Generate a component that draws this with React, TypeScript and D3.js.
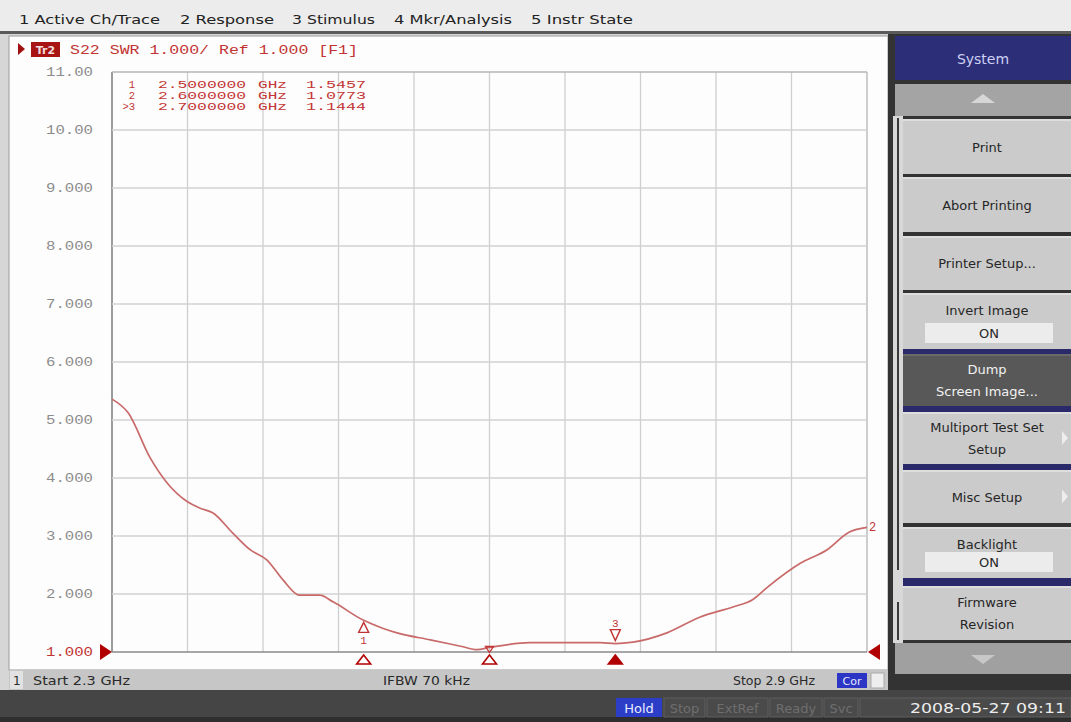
import React from 'react';
import * as d3 from 'd3';

// S22 SWR trace
const freqGHz = [
  2.3, 2.313, 2.33, 2.344, 2.36, 2.37, 2.38, 2.396, 2.41, 2.423, 2.436, 2.449,
  2.465, 2.476, 2.5, 2.515, 2.528, 2.553, 2.579, 2.59, 2.6, 2.632, 2.665,
  2.688, 2.7, 2.714, 2.741, 2.767, 2.794, 2.809, 2.821, 2.847, 2.868, 2.886, 2.9
];
const swrValues = [
  5.36, 5.12, 4.36, 3.91, 3.59, 3.48, 3.4, 3.05, 2.76, 2.59, 2.24, 1.98,
  1.98, 1.86, 1.5457, 1.41, 1.32, 1.21, 1.09, 1.04, 1.0773, 1.16, 1.16,
  1.16, 1.1444, 1.17, 1.33, 1.6, 1.78, 1.9, 2.12, 2.53, 2.76, 3.07, 3.15
];

const yTickValues = [11, 10, 9, 8, 7, 6, 5, 4, 3, 2, 1];
const yTickLabels = ['11.00', '10.00', '9.000', '8.000', '7.000', '6.000', '5.000', '4.000', '3.000', '2.000', '1.000'];

const markerNums = [1, 2, 3];
const markerFreqs = [2.5, 2.6, 2.7];
const markerSwr = [1.5457, 1.0773, 1.1444];
const activeMarker = 3;

const menuItems = ['1 Active Ch/Trace', '2 Response', '3 Stimulus', '4 Mkr/Analysis', '5 Instr State'];
const menuX = [19, 180, 292, 394, 531];
const menuW = [141, 94, 83, 118, 102];

const softkeys = [
  { lines: ['Print'], top: 119, bottom: 174 },
  { lines: ['Abort Printing'], top: 177, bottom: 232 },
  { lines: ['Printer Setup...'], top: 236, bottom: 290 },
  { lines: ['Invert Image'], top: 293, bottom: 349, value: 'ON' },
  { lines: ['Dump', 'Screen Image...'], top: 354, bottom: 406, dark: true },
  { lines: ['Multiport Test Set', 'Setup'], top: 412, bottom: 464, arrow: true },
  { lines: ['Misc Setup'], top: 470, bottom: 523, arrow: true },
  { lines: ['Backlight'], top: 527, bottom: 578, value: 'ON' },
  { lines: ['Firmware', 'Revision'], top: 586, bottom: 640 }
];
const navyGaps = [[349, 354], [406, 412], [464, 470], [578, 586]];

const statusItems = ['Hold', 'Stop', 'ExtRef', 'Ready', 'Svc'];
const statusX = [616, 664, 707, 770, 824, 860];

const RED = '#c23434';
const TRACE = '#c96a6a';
const MONO = '"Liberation Mono", "DejaVu Sans Mono", monospace';
const SANS = '"DejaVu Sans", "Liberation Sans", sans-serif';

export default function App() {
  const W = 1071;
  const H = 722;
  const x = d3.scaleLinear().domain([2.3, 2.9]).range([112, 867]);
  const y = d3.scaleLinear().domain([1, 11]).range([652, 72]);
  const xGrid = d3.range(11).map(i => 2.3 + i * 0.06);

  const pts = freqGHz.map((f, i) => [f, swrValues[i]] as [number, number]);
  const line = d3
    .line<[number, number]>()
    .x(d => x(d[0]))
    .y(d => y(d[1]))
    .curve(d3.curveMonotoneX);

  const [x0, x1] = x.range();
  const [yb, yt] = y.range();

  return (
    <svg
      width={W}
      height={H}
      style={{ position: 'absolute', left: 0, top: 0, background: '#d6d6d6' }}
    >
      {/* top menu bar */}
      <rect x={0} y={0} width={W} height={31} fill="#ececec" />
      <rect x={0} y={31} width={W} height={3} fill="#5a5a5a" />
      {menuItems.map((m, i) => (
        <text
          key={m}
          x={menuX[i]}
          y={24}
          fontFamily={SANS}
          fontSize={13}
          fill="#222"
          textLength={menuW[i]}
          lengthAdjust="spacingAndGlyphs"
        >
          {m}
        </text>
      ))}

      {/* chart window */}
      <rect x={9} y={36} width={879} height={634} fill="#fdfdfd" stroke="#9a9a9a" />
      <polygon points="18,43 25,49 18,55" fill="#a01010" />
      <rect x={31} y={42} width={29} height={15} fill="#a81414" />
      <text x={45.5} y={54} textAnchor="middle" fontFamily={SANS} fontSize={11} fontWeight="bold" fill="#f2dede">
        Tr2
      </text>
      <text
        x={70}
        y={54}
        fontFamily={MONO}
        fontSize={13}
        fill={RED}
        textLength={288}
        lengthAdjust="spacingAndGlyphs"
      >
        S22 SWR 1.000/ Ref 1.000 [F1]
      </text>

      {/* grid */}
      {xGrid.map((f, i) => (
        <line
          key={'vx' + i}
          x1={x(f)}
          x2={x(f)}
          y1={yt}
          y2={yb}
          stroke={i === 0 ? '#9c9c9c' : i === 10 ? '#b4b4b4' : '#cfcfcf'}
          strokeWidth={i === 0 ? 2 : 1.3}
        />
      ))}
      {yTickValues.map(v => (
        <line
          key={'hy' + v}
          x1={x0}
          x2={x1}
          y1={y(v)}
          y2={y(v)}
          stroke={v === 1 ? '#8a8a8a' : v === 11 ? '#b4b4b4' : '#d2d2d2'}
          strokeWidth={v === 1 ? 1.6 : 1.3}
        />
      ))}
      {yTickValues.map((v, i) => (
        <text
          key={'yl' + v}
          x={93}
          y={y(v) + 4}
          textAnchor="end"
          fontFamily={MONO}
          fontSize={12}
          fill={v === 1 ? RED : '#8c8c8c'}
          textLength={47}
          lengthAdjust="spacingAndGlyphs"
        >
          {yTickLabels[i]}
        </text>
      ))}

      {/* reference level arrows */}
      <polygon points={`100,${y(1) - 8} 112,${y(1)} 100,${y(1) + 8}`} fill="#b00000" />
      <polygon points={`880,${y(1) - 8} 868,${y(1)} 880,${y(1) + 8}`} fill="#b00000" />

      {/* marker table */}
      {markerNums.map((n, i) => {
        const by = 88 + i * 11;
        return (
          <g key={'mt' + n} fontFamily={MONO} fontSize={10.5} fill={RED}>
            <text x={135} y={by} textAnchor="end">
              {(n === activeMarker ? '>' : '') + n}
            </text>
            <text x={158} y={by} textLength={88} lengthAdjust="spacingAndGlyphs">
              {markerFreqs[i].toFixed(7)}
            </text>
            <text x={258} y={by} textLength={29} lengthAdjust="spacingAndGlyphs">
              GHz
            </text>
            <text x={306} y={by} textLength={60} lengthAdjust="spacingAndGlyphs">
              {markerSwr[i].toFixed(4)}
            </text>
          </g>
        );
      })}

      {/* trace */}
      <path d={line(pts) || ''} fill="none" stroke={TRACE} strokeWidth={1.7} />
      <text x={869} y={531} fontFamily={MONO} fontSize={12} fill={RED}>
        2
      </text>

      {/* markers */}
      {markerNums.map((n, i) => {
        const mx = x(markerFreqs[i]);
        const my = y(markerSwr[i]);
        const below = n === 1;
        const active = n === activeMarker;
        return (
          <g key={'mk' + n}>
            {below ? (
              <>
                <polygon
                  points={`${mx},${my + 2} ${mx - 5},${my + 12} ${mx + 5},${my + 12}`}
                  fill="#fff"
                  stroke={RED}
                  strokeWidth={1.4}
                />
                <text x={mx} y={my + 24} textAnchor="middle" fontFamily={MONO} fontSize={11} fill={RED}>
                  {n}
                </text>
              </>
            ) : n === 2 ? (
              <polygon
                points={`${mx - 4},${my - 1} ${mx + 4},${my - 1} ${mx},${my + 5}`}
                fill="none"
                stroke={RED}
                strokeWidth={1.3}
              />
            ) : (
              <>
                <polygon
                  points={`${mx - 5},${my - 14} ${mx + 5},${my - 14} ${mx},${my - 3}`}
                  fill="#fff"
                  stroke={RED}
                  strokeWidth={1.4}
                />
                <text x={mx} y={my - 17} textAnchor="middle" fontFamily={MONO} fontSize={11} fill={RED}>
                  {n}
                </text>
              </>
            )}
            <polygon
              points={`${mx},${yb + 3} ${mx - 7},${yb + 12} ${mx + 7},${yb + 12}`}
              fill={active ? '#b00000' : '#fff'}
              stroke="#b00000"
              strokeWidth={1.6}
            />
          </g>
        );
      })}

      {/* chart status bar */}
      <rect x={9} y={670} width={879} height={20} fill="#c6c6c6" />
      <rect x={10} y={671} width={13} height={18} fill="#e2e2e2" />
      <g fontFamily={SANS} fontSize={12} fill="#2a2a2a">
        <text x={13} y={685}>1</text>
        <text x={33} y={685} textLength={97} lengthAdjust="spacingAndGlyphs">
          Start 2.3 GHz
        </text>
        <text x={383} y={685} textLength={87} lengthAdjust="spacingAndGlyphs">
          IFBW 70 kHz
        </text>
        <text x={733} y={685} textLength={82} lengthAdjust="spacingAndGlyphs">
          Stop 2.9 GHz
        </text>
      </g>
      <rect x={837} y={673} width={30} height={15} fill="#2d36c4" />
      <text x={852} y={685} textAnchor="middle" fontFamily={SANS} fontSize={11} fill="#e6e8ff">
        Cor
      </text>
      <rect x={871} y={673} width={13} height={15} fill="#eee" stroke="#aaa" />

      {/* bottom instrument status */}
      <rect x={0} y={690} width={W} height={32} fill="#454545" />
      <rect x={0} y={717} width={W} height={5} fill="#2e2e2e" />
      {statusItems.map((s, i) => {
        const sx = statusX[i];
        const sw = statusX[i + 1] - sx - 2;
        const on = i === 0;
        return (
          <g key={s}>
            <rect
              x={sx}
              y={698}
              width={sw}
              height={19}
              fill={on ? '#2c3ec8' : '#4a4a4a'}
              stroke={on ? 'none' : '#5e5e5e'}
            />
            <text
              x={sx + sw / 2}
              y={713}
              textAnchor="middle"
              fontFamily={SANS}
              fontSize={13}
              fill={on ? '#e8ecff' : '#6e6e6e'}
            >
              {s}
            </text>
          </g>
        );
      })}
      <rect x={860} y={698} width={211} height={19} fill="#4a4a4a" stroke="#5e5e5e" />
      <text x={910} y={713} fontFamily={SANS} fontSize={14} fill="#ececec" textLength={156} lengthAdjust="spacingAndGlyphs">
        2008-05-27 09:11
      </text>

      {/* softkey panel */}
      <rect x={888} y={34} width={183} height={656} fill="#333" />
      <rect x={895} y={36} width={176} height={44} fill="#2c2f78" />
      <text x={983} y={64} textAnchor="middle" fontFamily={SANS} fontSize={14} fill="#cfd0f4">
        System
      </text>
      <rect x={895} y={84} width={176} height={32} fill="#a4a4a4" />
      <polygon points="971,103 983,94 995,103" fill="#d6d6d6" />
      <rect x={893} y={116} width={10} height={527} fill="#d8d8d8" />
      <line x1={898} x2={898} y1={118} y2={570} stroke="#3a3a3a" strokeWidth={2} />
      <line x1={898} x2={898} y1={602} y2={640} stroke="#3a3a3a" strokeWidth={2} />
      {navyGaps.map(([a, b]) => (
        <rect key={'ng' + a} x={903} y={a} width={168} height={b - a} fill="#2a2a6a" />
      ))}
      {softkeys.map(k => {
        const h = k.bottom - k.top;
        const cx = 987;
        const n = k.lines.length;
        const base = k.value ? k.top + 22 : k.top + h / 2 + 5 - (n - 1) * 11;
        return (
          <g key={k.lines.join(' ')}>
            <rect x={903} y={k.top} width={168} height={h} fill={k.dark ? '#585858' : '#cbcbcb'} />
            <rect x={903} y={k.top} width={168} height={2} fill={k.dark ? '#6a6a6a' : '#dedede'} />
            {k.lines.map((l, j) => (
              <text
                key={l}
                x={cx}
                y={base + j * 22}
                textAnchor="middle"
                fontFamily={SANS}
                fontSize={13}
                fill={k.dark ? '#f2f2f2' : '#262626'}
              >
                {l}
              </text>
            ))}
            {k.value && (
              <>
                <rect x={925} y={k.bottom - 26} width={128} height={20} fill="#ececec" />
                <text x={989} y={k.bottom - 11} textAnchor="middle" fontFamily={SANS} fontSize={13} fill="#262626">
                  {k.value}
                </text>
              </>
            )}
            {k.arrow && (
              <polygon
                points={`1062,${k.top + h / 2 - 7} 1068,${k.top + h / 2} 1062,${k.top + h / 2 + 7}`}
                fill="#ededed"
              />
            )}
          </g>
        );
      })}
      <rect x={895} y={643} width={176} height={31} fill="#a0a0a0" />
      <polygon points="971,655 995,655 983,664" fill="#c8c8c8" />
    </svg>
  );
}
